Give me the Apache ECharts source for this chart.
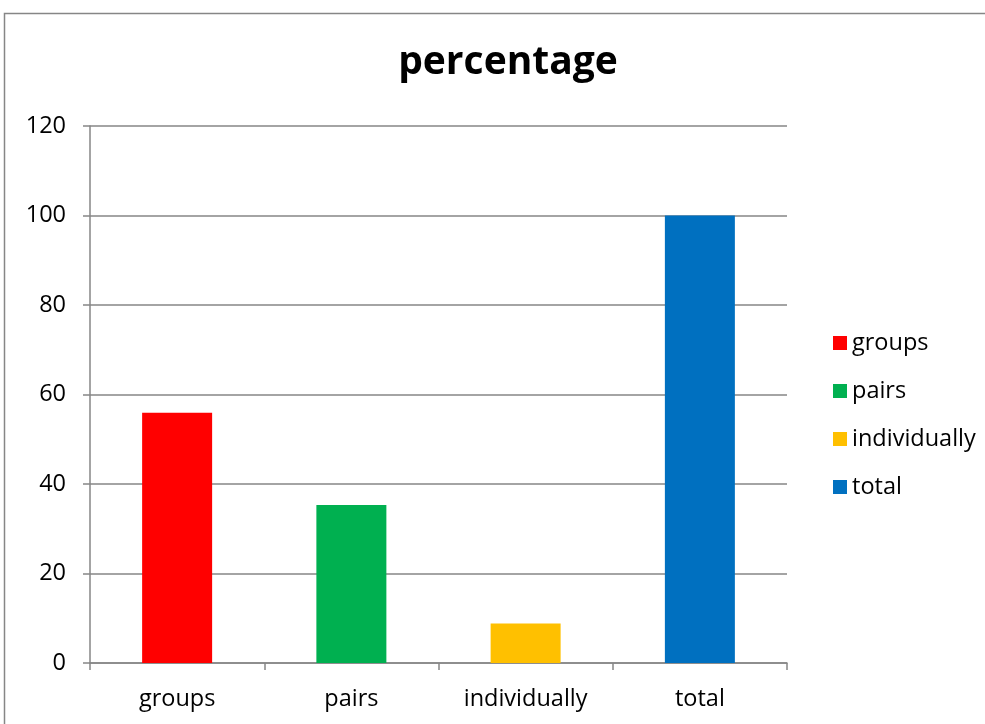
<!DOCTYPE html>
<html>
<head>
<meta charset="utf-8">
<script src="https://cdn.jsdelivr.net/npm/echarts@6/dist/echarts.min.js"></script>
<style>
  html, body { margin: 0; padding: 0; background: #fff; }
  #chart { width: 985px; height: 724px; }
</style>
</head>
<body>
<div id="chart"></div>
<script>
// Share of work done in each mode
const categories = ['groups', 'pairs', 'individually', 'total'];
const values = [55.9, 35.3, 8.8, 100];
const colors = ['#FF0000', '#00B050', '#FFC000', '#0070C0'];
const yTicks = { min: 0, max: 120, interval: 20 };

const font = 'Open Sans, Noto Sans, sans-serif';
const axisGray = '#868686';
const labelSize = 23.5;

// One series per category so each shows up in the legend with its own colour
const series = categories.map((name, i) => ({
  name: name,
  type: 'bar',
  barWidth: 70,
  barGap: '-100%',
  itemStyle: { color: colors[i] },
  data: categories.map((_, j) => (j === i ? values[i] : '-'))
}));

const chart = echarts.init(document.getElementById('chart'), null, { renderer: 'canvas' });
chart.setOption({
  animation: false,
  backgroundColor: '#fff',
  title: {
    text: 'percentage',
    left: 503,
    textAlign: 'center',
    top: 38,
    textStyle: { fontFamily: font, fontWeight: 'bold', fontSize: 39, color: '#000' }
  },
  legend: {
    orient: 'vertical',
    left: 828,
    top: 326,
    itemWidth: 14,
    itemHeight: 14,
    itemGap: 24,
    icon: 'rect',
    textStyle: { fontFamily: font, fontSize: labelSize, color: '#000', lineHeight: 24 },
    data: categories
  },
  grid: { left: 90, right: 198, top: 126, bottom: 61 },
  xAxis: {
    type: 'category',
    data: categories,
    axisLine: { lineStyle: { color: axisGray, width: 1.5 } },
    axisTick: { show: true, length: 7, lineStyle: { color: axisGray, width: 1.5 } },
    axisLabel: { fontFamily: font, fontSize: labelSize, color: '#000', margin: 24 }
  },
  yAxis: {
    type: 'value',
    min: yTicks.min,
    max: yTicks.max,
    interval: yTicks.interval,
    axisLine: { show: true, lineStyle: { color: axisGray, width: 1.5 } },
    axisTick: { show: true, length: 7, lineStyle: { color: axisGray, width: 1.5 } },
    splitLine: { show: true, lineStyle: { color: axisGray, width: 1.5 } },
    axisLabel: { fontFamily: font, fontSize: labelSize, color: '#000', margin: 24 }
  },
  graphic: [{
    type: 'rect',
    shape: { x: 4.5, y: 13.5, width: 1100, height: 1000 },
    style: { fill: 'none', stroke: axisGray, lineWidth: 1.5 },
    silent: true,
    z: -1
  }],
  series: series
});
</script>
</body>
</html>
